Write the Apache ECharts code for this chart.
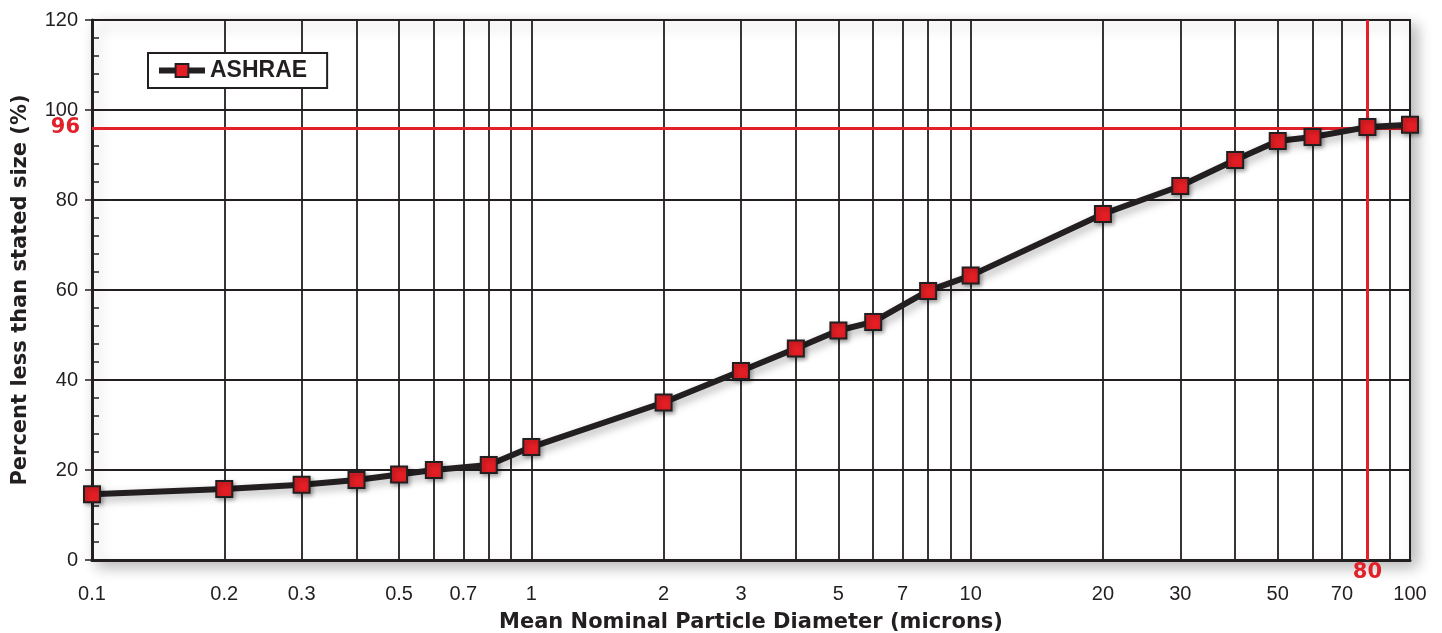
<!DOCTYPE html>
<html>
<head>
<meta charset="utf-8">
<script src="https://cdn.jsdelivr.net/npm/echarts@6/dist/echarts.min.js"></script>
<style>
html,body{margin:0;padding:0;background:#fff;}
#chart{width:1442px;height:633px;}
</style>
</head>
<body>
<div id="chart"></div>
<script>
const diameters = [0.1, 0.2, 0.3, 0.4, 0.5, 0.6, 0.8, 1, 2, 3, 4, 5, 6, 8, 10, 20, 30, 40, 50, 60, 80, 100];
const percentLess = [14.6, 15.8, 16.7, 17.8, 19.0, 20.0, 21.1, 25.1, 35.0, 42.0, 47.0, 51.0, 52.9, 59.8, 63.2, 76.9, 83.1, 88.9, 93.1, 94.0, 96.2, 96.7];
const xLabelValues = [0.1, 0.2, 0.3, 0.5, 0.7, 1, 2, 3, 5, 7, 10, 20, 30, 50, 70, 100];
const xGridValues = [0.1, 0.2, 0.3, 0.4, 0.5, 0.6, 0.7, 0.8, 0.9, 1, 2, 3, 4, 5, 6, 7, 8, 9, 10, 20, 30, 40, 50, 60, 70, 80, 90, 100];
const refX = 80;
const refY = 96;

const INK = '#231f20';
const RED = '#e2202a';
const FONT = '"Liberation Sans", Arial, Helvetica, sans-serif';
const WIDE = '"DejaVu Sans", "Liberation Sans", sans-serif';

const chart = echarts.init(document.getElementById('chart'), null, {renderer: 'canvas'});
chart.setOption({
  animation: false,
  backgroundColor: '#fff',
  textStyle: {fontFamily: FONT},
  grid: {
    left: 92, right: 32, top: 20, bottom: 73,
    outerBoundsMode: 'none',
    containLabel: false,
    show: true, backgroundColor: '#fff',
    borderColor: INK, borderWidth: 2,
    shadowBlur: 14, shadowColor: 'rgba(0,0,0,0.28)', shadowOffsetX: 6, shadowOffsetY: 6
  },
  legend: {
    data: ['ASHRAE'],
    left: 148, top: 53,
    orient: 'horizontal',
    backgroundColor: '#fff',
    borderColor: INK, borderWidth: 2, borderRadius: 0,
    padding: [6, 20, 6, 8],
    itemWidth: 46, itemHeight: 16, itemGap: 8,
    lineStyle: {color: INK, width: 6},
    itemStyle: {color: '#e31e24', borderColor: INK, borderWidth: 2},
    textStyle: {fontFamily: FONT, fontSize: 23, fontWeight: 'bold', color: INK}
  },
  xAxis: {
    type: 'log', logBase: 10, min: 0.1, max: 100,
    name: 'Mean Nominal Particle Diameter (microns)',
    nameLocation: 'middle', nameGap: 52,
    nameTextStyle: {fontFamily: WIDE, fontSize: 21, fontWeight: 'bold', color: INK},
    axisLine: {show: true, onZero: false, lineStyle: {color: INK, width: 3}},
    axisTick: {show: false, customValues: xGridValues},
    axisLabel: {
      customValues: xLabelValues,
      margin: 24,
      fontFamily: FONT, fontSize: 20, color: INK,
      formatter: v => String(+Number(v).toPrecision(3))
    },
    splitLine: {show: true, lineStyle: {color: INK, width: 1.8}},
    minorTick: {show: false},
    minorSplitLine: {show: false}
  },
  yAxis: [{
    type: 'value', min: 0, max: 120, interval: 20,
    name: 'Percent less than stated size (%)',
    nameLocation: 'middle', nameGap: 61, nameRotate: 90,
    nameTextStyle: {fontFamily: WIDE, fontSize: 21, fontWeight: 'bold', color: INK},
    axisLine: {show: true, lineStyle: {color: INK, width: 3}},
    axisTick: {show: true, inside: false, length: 7, lineStyle: {color: INK, width: 1.5}},
    axisLabel: {margin: 14, fontFamily: FONT, fontSize: 20, color: INK},
    splitLine: {show: true, lineStyle: {color: INK, width: 1.8}}
  }, {
    type: 'value', min: 0, max: 120, interval: 4, position: 'left',
    axisLine: {show: false},
    axisTick: {show: true, inside: true, length: 7, lineStyle: {color: INK, width: 1.5}},
    axisLabel: {show: false},
    splitLine: {show: false}
  }],
  series: [{
    name: 'refs',
    type: 'line',
    data: [],
    z: 1,
    silent: true,
    markLine: {
      silent: true,
      symbol: ['none', 'none'],
      lineStyle: {color: RED, width: 3, type: 'solid'},
      data: [
        {xAxis: refX, label: {show: true, position: 'start', distance: 2, formatter: String(refX), color: RED, fontFamily: WIDE, fontSize: 21, fontWeight: 'bold'}},
        {yAxis: refY, label: {show: true, position: 'start', distance: 12, formatter: String(refY), color: RED, fontFamily: WIDE, fontSize: 21, fontWeight: 'bold'}}
      ]
    }
  }, {
    name: 'ASHRAE',
    type: 'line',
    z: 5,
    data: diameters.map((d, i) => [d, percentLess[i]]),
    symbol: 'rect',
    symbolSize: 16,
    showAllSymbol: true,
    lineStyle: {color: INK, width: 6, shadowBlur: 8, shadowColor: 'rgba(0,0,0,0.3)', shadowOffsetX: 3, shadowOffsetY: 4},
    itemStyle: {color: '#e31e24', borderColor: INK, borderWidth: 2, shadowBlur: 4, shadowColor: 'rgba(0,0,0,0.3)', shadowOffsetX: 2, shadowOffsetY: 2}
  }]
});
</script>
</body>
</html>
